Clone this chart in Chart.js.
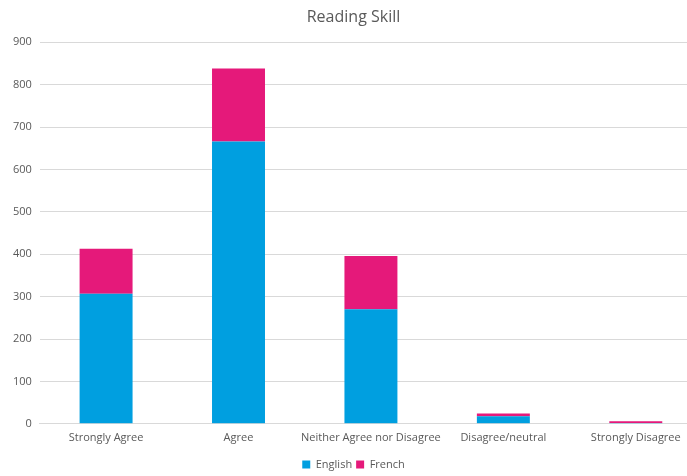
<!DOCTYPE html>
<html>
<head>
<meta charset="utf-8">
<script src="https://cdn.jsdelivr.net/npm/chart.js@4"></script>
<style>
html,body{margin:0;padding:0;background:#fff;overflow:hidden;}
#wrap{width:687px;height:476px;overflow:hidden;position:relative;}
#box{width:702px;height:476px;position:absolute;left:0;top:0;}
</style>
</head>
<body>
<div id="wrap"><div id="box"><canvas id="c"></canvas></div></div>
<script>
const categories = ["Strongly Agree", "Agree", "Neither Agree nor Disagree", "Disagree/neutral", "Strongly Disagree"];
const english = [307, 666, 270, 18, 2];
const french = [106, 172, 126, 6, 4];
const yTicks = [0, 100, 200, 300, 400, 500, 600, 700, 800, 900];

const FONT = "'Open Sans', 'Liberation Sans', sans-serif";
new Chart(document.getElementById('c'), {
  type: 'bar',
  data: {
    labels: categories,
    datasets: [
      { label: 'English', data: english, backgroundColor: '#009fe0', borderWidth: 0 },
      { label: 'French', data: french, backgroundColor: '#e5197a', borderWidth: 0 }
    ]
  },
  options: {
    responsive: true,
    maintainAspectRatio: false,
    animation: false,
    layout: { padding: { left: 5, right: 0, top: 6, bottom: -4 } },
    datasets: { bar: { categoryPercentage: 1.0, barPercentage: 0.4 } },
    plugins: {
      title: {
        display: true, text: 'Reading Skill', color: '#595959',
        font: { family: FONT, size: 16, weight: 'normal' },
        padding: { top: 2, bottom: 15 }
      },
      legend: {
        position: 'bottom',
        labels: {
          color: '#595959', boxWidth: 8, boxHeight: 8, padding: 4,
          font: { family: FONT, size: 11 }
        }
      },
      tooltip: { enabled: false }
    },
    scales: {
      x: {
        stacked: true,
        grid: { display: false },
        border: { display: true, color: '#d9d9d9', width: 1 },
        ticks: { color: '#595959', font: { family: FONT, size: 11 }, maxRotation: 0, autoSkip: false, padding: -1 },
        afterFit: (s) => { s.height += 12; }
      },
      y: {
        stacked: true,
        min: 0, max: 900,
        afterBuildTicks: (axis) => { axis.ticks = yTicks.map(v => ({ value: v })); },
        grid: { color: '#d9d9d9', lineWidth: 1, drawTicks: false },
        border: { display: false },
        ticks: { color: '#595959', font: { family: FONT, size: 11 }, padding: 8 }
      }
    }
  }
});
</script>
</body>
</html>
